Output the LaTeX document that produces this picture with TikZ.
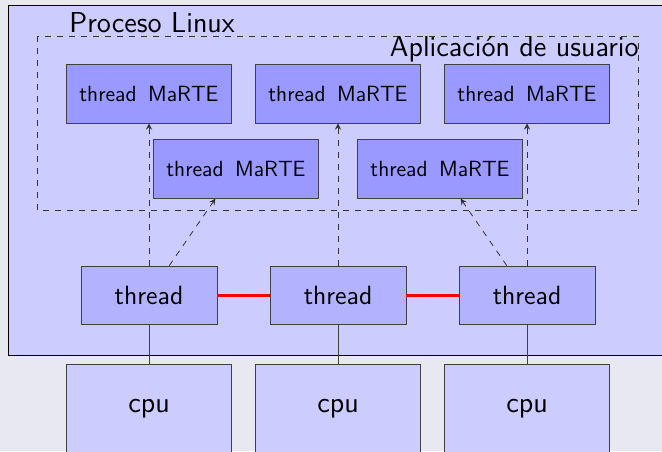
\documentclass[tikz,border=0pt]{standalone}
\definecolor{fondo}{RGB}{232,232,241}
\newcommand\letramarte{\sffamily\fontsize{11}{13}\selectfont\spaceskip 5.8pt\relax}
\begin{document}
\begin{tikzpicture}[x=0.5pt,y=-0.5pt,
  caja/.style={draw=black!75,inner sep=0pt,minimum width=82.5pt,font=\sffamily\fontsize{14.4}{17}\selectfont},
  marte/.style={caja,fill=blue!40,minimum height=29.5pt,font=\letramarte},
  hilo/.style={caja,fill=blue!30,minimum width=68pt,minimum height=29pt,font=\sffamily\fontsize{13.2}{16}\selectfont},
  cpu/.style={caja,fill=blue!20,anchor=north,text height=24pt,text depth=60pt},
  flecha/.style={draw=black!80,dashed,-stealth},
  enlace/.style={red,line width=1.5pt}]
 \useasboundingbox (0,0) rectangle (662,451);
 \clip (0,0) rectangle (662,451);
 \fill[fondo] (0,0) rectangle (662,451);
 \draw[fill=blue!20] (8,5) rectangle (700,355);
 \node[anchor=base west,inner sep=0pt,font=\sffamily\fontsize{14.4}{17}\selectfont] (proceso) at (69,32) {Proceso Linux};
 \draw[black!80,dashed] (37,36) rectangle (638,210);
 \node[anchor=base east,inner sep=0pt,font=\sffamily\fontsize{14.4}{17}\selectfont] (aplicacion) at (639,56) {Aplicación de usuario};
 \node[marte] (marte1) at (149,93.5) {thread MaRTE};
 \node[marte] (marte2) at (338,93.5) {thread MaRTE};
 \node[marte] (marte3) at (527,93.5) {thread MaRTE};
 \node[marte] (marte4) at (236,168.7) {thread MaRTE};
 \node[marte] (marte5) at (440,168.7) {thread MaRTE};
 \node[hilo] (hilo1) at (149,295) {thread};
 \node[hilo] (hilo2) at (338,295) {thread};
 \node[hilo] (hilo3) at (527,295) {thread};
 \node[cpu] (cpu1) at (149,364) {cpu};
 \node[cpu] (cpu2) at (338,364) {cpu};
 \node[cpu] (cpu3) at (527,364) {cpu};
 \draw[flecha] (hilo1) -- (marte1);
 \draw[flecha] (hilo2) -- (marte2);
 \draw[flecha] (hilo3) -- (marte3);
 \draw[flecha] (hilo1) -- (marte4);
 \draw[flecha] (hilo3) -- (marte5);
 \draw[enlace] (hilo1) -- (hilo2);
 \draw[enlace] (hilo2) -- (hilo3);
 \draw[black!75] (hilo1) -- (cpu1);
 \draw[black!75] (hilo2) -- (cpu2);
 \draw[black!75] (hilo3) -- (cpu3);
\end{tikzpicture}
\end{document}
